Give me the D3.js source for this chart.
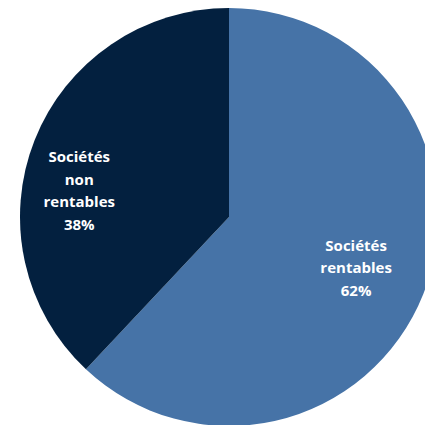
<!DOCTYPE html>
<html><head><meta charset="utf-8">
<script src="https://cdn.jsdelivr.net/npm/d3@7"></script>
<style>html,body{margin:0;padding:0;background:#fff;overflow:hidden}</style>
</head><body>
<script>
const categories = ["Sociétés rentables", "Sociétés non rentables"];
const labelLines = [["Sociétés", "rentables", "62%"], ["Sociétés", "non", "rentables", "38%"]];
const values = [62, 38];
const colors = ["#4673a7", "#03203f"];

const W = 425, H = 425, cx = 229, cy = 217, R = 209;
const svg = d3.select("body").append("svg").attr("width", W).attr("height", H);
const g = svg.append("g").attr("transform", `translate(${cx},${cy})`);
const pie = d3.pie().sort(null).value(d => d)(values);
const arc = d3.arc().innerRadius(0).outerRadius(R);
g.selectAll("path").data(pie).enter().append("path")
  .attr("d", arc).attr("fill", (d, i) => colors[i]);

// label placement (angle in radians from top, radius)
const labelPos = [[1.953, 137], [-1.398, 152]];
const lh = 22.5;
pie.forEach((d, i) => {
  const [x, y] = d3.pointRadial(labelPos[i][0], labelPos[i][1]);
  const lines = labelLines[i];
  const t = g.append("text").attr("text-anchor", "middle")
    .attr("font-family", "'Open Sans', Lato, sans-serif").attr("font-weight", "bold")
    .attr("font-size", 15).attr("fill", "#fff");
  lines.forEach((s, k) => {
    t.append("tspan").attr("x", x)
      .attr("y", y + (k - (lines.length - 1) / 2) * lh)
      .attr("dy", "0.35em").text(s);
  });
});
</script>
</body></html>
